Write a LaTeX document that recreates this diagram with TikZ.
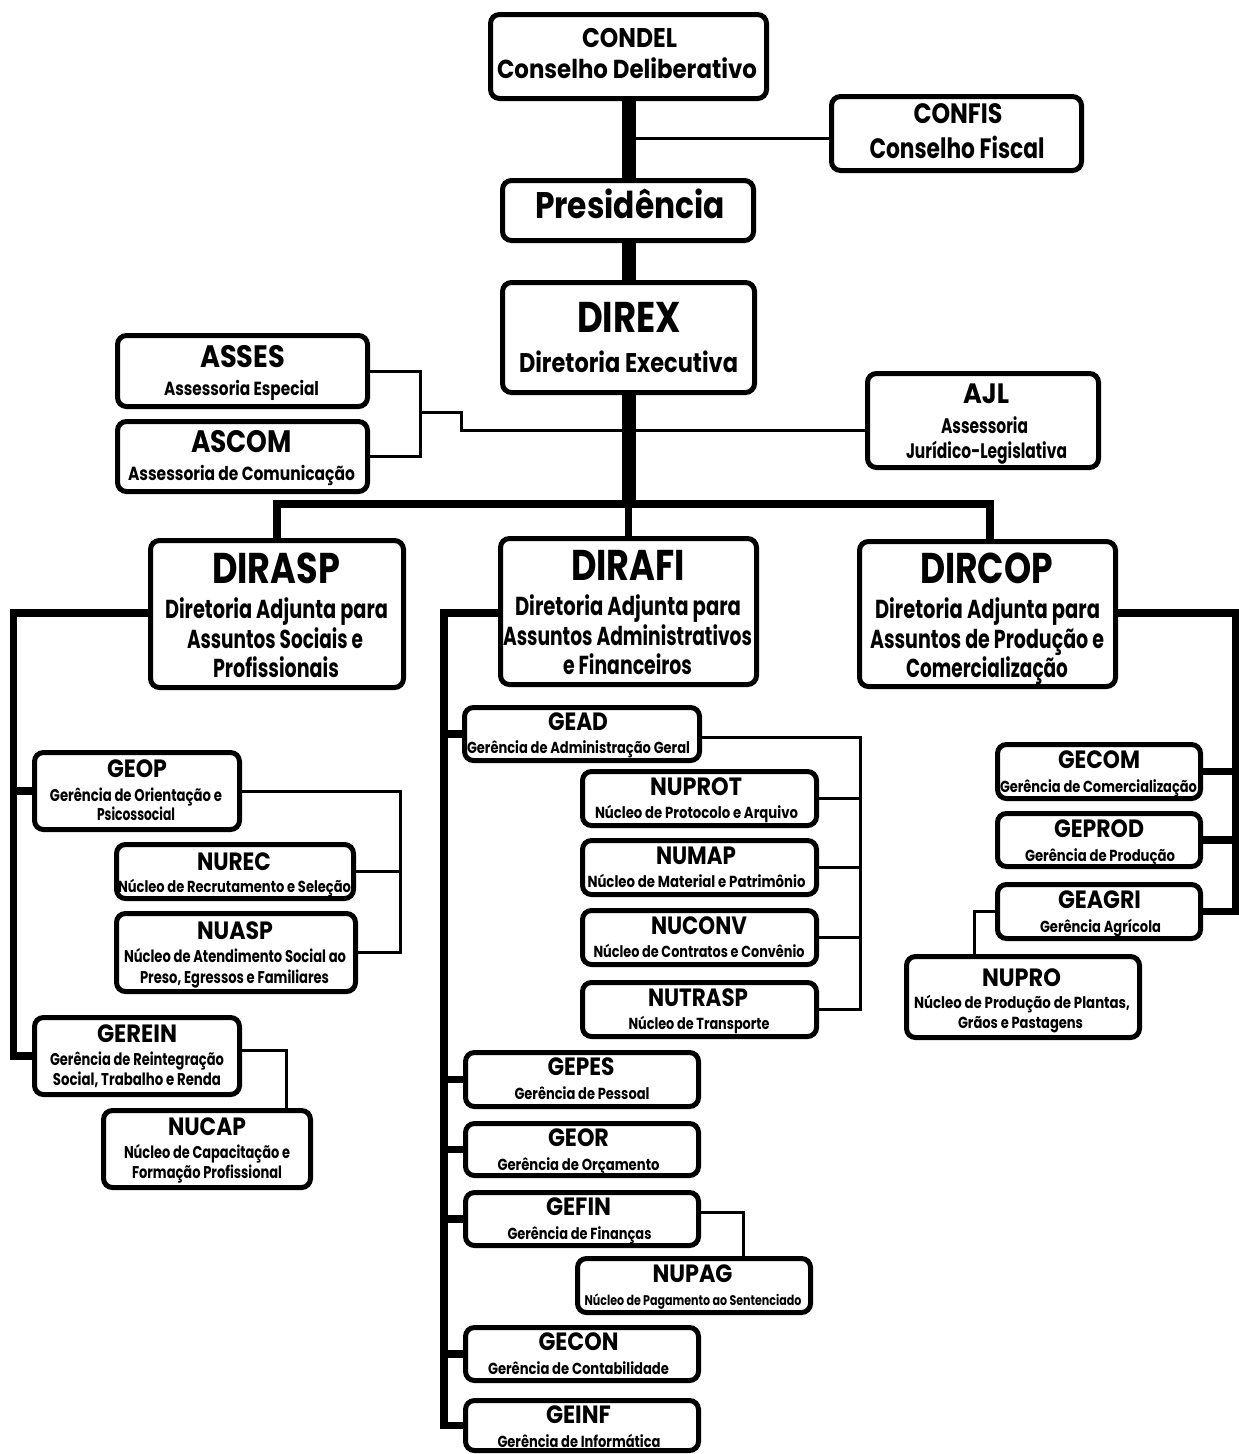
\documentclass[tikz,border=0pt]{standalone}
\usepackage{fontspec}
\usepackage{graphicx}
\setmainfont{Poppins}
\usetikzlibrary{backgrounds}
\newlength\fitlen
\newcommand\fitx[2]{\settowidth\fitlen{#2}\pgfmathsetmacro\fitsc{#1/\fitlen}\scalebox{\fitsc}[1]{#2}}
\tikzset{
  bx/.style={draw=black, line width=5pt, rounded corners=9pt, fill=white, inner sep=0pt, outer sep=0pt},
  cn/.style={draw=black, line width=3pt},
  bus/.style={draw=black, line width=7.5pt},
  spine/.style={draw=black, line width=14pt},
}
\newcommand\B[5]{\node[bx, minimum width={#4-#2-5}, minimum height={#5-#3-5}] (#1) at ({(#2+#4)/2},{(#3+#5)/2}) {};}
\newcommand\T[6]{\node[anchor=base, inner sep=0pt, font=\fontsize{#4}{#4}\selectfont\bfseries] (#1) at (#2,#3) {\fitx{#5}{#6}};}
\begin{document}
\begin{tikzpicture}[x=1pt,y=-1pt]
\useasboundingbox (0,0) rectangle (1239,1454);
% boxes
\B{condel}{488}{12}{769}{101}
\B{confis}{829}{94}{1084}{173}
\B{pres}{500}{178}{756}{243}
\B{direx}{500}{280}{757}{395}
\B{asses}{115}{333}{370}{409}
\B{ascom}{115}{419}{370}{494}
\B{ajl}{865}{371}{1101}{470}
\B{dirasp}{148}{538}{406}{690}
\B{dirafi}{498}{536}{759}{687}
\B{dircop}{857}{539}{1118}{689}
\B{geop}{32}{750}{242}{832}
\B{nurec}{114}{842}{356}{901}
\B{nuasp}{114}{911}{358}{994}
\B{gerein}{32}{1015}{242}{1097}
\B{nucap}{101}{1108}{313}{1190}
\B{gead}{462}{705}{702}{763}
\B{nuprot}{580}{769}{819}{828}
\B{numap}{580}{838}{819}{897}
\B{nuconv}{580}{908}{819}{967}
\B{nutrasp}{580}{980}{819}{1039}
\B{gepes}{463}{1050}{701}{1109}
\B{geor}{463}{1121}{701}{1178}
\B{gefin}{463}{1190}{701}{1248}
\B{nupag}{575}{1256}{813}{1315}
\B{gecon}{463}{1325}{701}{1383}
\B{geinf}{463}{1398}{701}{1453}
\B{gecom}{995}{742}{1203}{801}
\B{geprod}{995}{811}{1203}{869}
\B{geagri}{995}{882}{1203}{941}
\B{nupro}{904}{954}{1142}{1040}
% texts
\T{t-condel1}{629.5}{47}{27}{95}{CONDEL}
\T{t-condel2}{627}{78}{26}{260}{Conselho Deliberativo}
\T{t-confis1}{958}{123}{28}{89}{CONFIS}
\T{t-confis2}{957}{158}{28}{175}{Conselho Fiscal}
\T{t-pres}{630}{218}{37}{190}{Presidência}
\T{t-direx1}{629}{332}{43}{104}{DIREX}
\T{t-direx2}{628.5}{372}{27}{219}{Diretoria Executiva}
\T{t-asses1}{242.5}{367}{31}{85}{ASSES}
\T{t-asses2}{241.5}{395}{19}{155}{Assessoria Especial}
\T{t-ascom1}{241.5}{452}{31}{101}{ASCOM}
\T{t-ascom2}{241.5}{480}{19}{227}{Assessoria de Comunicação}
\T{t-ajl1}{986}{403}{28}{46}{AJL}
\T{t-ajl2}{984.5}{433}{21}{87}{Assessoria}
\T{t-ajl3}{986.5}{458}{21}{161}{Jurídico-Legislativa}
\T{t-dirasp1}{276}{583}{43}{128}{DIRASP}
\T{t-dirasp2}{276.5}{618}{26}{223}{Diretoria Adjunta para}
\T{t-dirasp3}{275}{648}{26}{176}{Assuntos Sociais e}
\T{t-dirasp4}{276}{677}{26}{126}{Profissionais}
\T{t-dirafi1}{628}{580}{43}{114}{DIRAFI}
\T{t-dirafi2}{628}{615}{26}{226}{Diretoria Adjunta para}
\T{t-dirafi3}{627.5}{645}{26}{249}{Assuntos Administrativos}
\T{t-dirafi4}{627.5}{674}{26}{129}{e Financeiros}
\T{t-dircop1}{986.5}{583}{43}{133}{DIRCOP}
\T{t-dircop2}{987.5}{618}{26}{225}{Diretoria Adjunta para}
\T{t-dircop3}{987}{648}{26}{234}{Assuntos de Produção e}
\T{t-dircop4}{987}{677}{26}{162}{Comercialização}
\T{t-geop1}{137}{777}{25}{60}{GEOP}
\T{t-geop2}{136}{801}{17}{172}{Gerência de Orientação e}
\T{t-geop3}{136}{820}{17}{78}{Psicossocial}
\T{t-nurec1}{234}{870}{25}{74}{NUREC}
\T{t-nurec2}{234.5}{892}{16}{233}{Núcleo de Recrutamento e Seleção}
\T{t-nuasp1}{235}{939}{25}{76}{NUASP}
\T{t-nuasp2}{235}{962}{17}{222}{Núcleo de Atendimento Social ao}
\T{t-nuasp3}{234.5}{983}{17}{189}{Preso, Egressos e Familiares}
\T{t-gerein1}{137}{1042}{25}{80}{GEREIN}
\T{t-gerein2}{137}{1065}{17}{174}{Gerência de Reintegração}
\T{t-gerein3}{137}{1085}{17}{168}{Social, Trabalho e Renda}
\T{t-nucap1}{207}{1135}{25}{78}{NUCAP}
\T{t-nucap2}{207}{1158}{17}{166}{Núcleo de Capacitação e}
\T{t-nucap3}{207}{1178}{17}{150}{Formação Profissional}
\T{t-gead1}{578}{730}{25}{60}{GEAD}
\T{t-gead2}{578.5}{753}{16}{223}{Gerência de Administração Geral}
\T{t-nuprot1}{696}{795}{25}{92}{NUPROT}
\T{t-nuprot2}{696.5}{818}{16}{203}{Núcleo de Protocolo e Arquivo}
\T{t-numap1}{696}{864}{25}{80}{NUMAP}
\T{t-numap2}{696.5}{887}{16}{218}{Núcleo de Material e Patrimônio}
\T{t-nuconv1}{699}{934}{25}{96}{NUCONV}
\T{t-nuconv2}{699}{957}{16}{211}{Núcleo de Contratos e Convênio}
\T{t-nutrasp1}{698}{1006}{25}{100}{NUTRASP}
\T{t-nutrasp2}{699}{1029}{16}{141}{Núcleo de Transporte}
\T{t-gepes1}{581}{1075}{25}{67}{GEPES}
\T{t-gepes2}{582}{1099}{16}{135}{Gerência de Pessoal}
\T{t-geor1}{578.5}{1146}{25}{61}{GEOR}
\T{t-geor2}{578.5}{1170}{16}{162}{Gerência de Orçamento}
\T{t-gefin1}{578.5}{1215}{25}{65}{GEFIN}
\T{t-gefin2}{579.5}{1239}{16}{144}{Gerência de Finanças}
\T{t-nupag1}{692.5}{1282}{25}{80}{NUPAG}
\T{t-nupag2}{693}{1305}{14}{217}{Núcleo de Pagamento ao Sentenciado}
\T{t-gecon1}{578.5}{1350}{25}{80}{GECON}
\T{t-gecon2}{578.5}{1374}{16}{181}{Gerência de Contabilidade}
\T{t-geinf1}{578.5}{1423}{25}{65}{GEINF}
\T{t-geinf2}{579}{1447}{16}{163}{Gerência de Informática}
\T{t-gecom1}{1099}{768}{25}{82}{GECOM}
\T{t-gecom2}{1098.5}{792}{16}{197}{Gerência de Comercialização}
\T{t-geprod1}{1099}{837}{25}{90}{GEPROD}
\T{t-geprod2}{1100}{861}{16}{150}{Gerência de Produção}
\T{t-geagri1}{1099.5}{908}{25}{83}{GEAGRI}
\T{t-geagri2}{1100.5}{932}{16}{121}{Gerência Agrícola}
\T{t-nupro1}{1021.5}{986}{25}{79}{NUPRO}
\T{t-nupro2}{1022}{1008}{16}{216}{Núcleo de Produção de Plantas,}
\T{t-nupro3}{1020.5}{1028}{16}{125}{Grãos e Pastagens}
% connectors
\begin{scope}[on background layer]
\fill[white] (0,0) rectangle (1239,1454);
\coordinate (sp) at (629,504);
\draw[spine] (condel.south) -- (condel.south |- sp);
\coordinate (cf) at (629,138);
\draw[cn] (cf) -- (cf -| confis.west);
\coordinate (aj) at (629,430);
\draw[cn] (aj) -- (aj -| ajl.west);
\coordinate (ax) at (420,412);
\coordinate (an) at (461,430);
\draw[cn] (asses.east) -| (ax |- ascom.east) -- (ascom.east);
\draw[cn] (ax) -| (an) -- (aj);
\coordinate (bl) at (277,504);
\coordinate (br) at (990,504);
\draw[bus] (dirasp.north) -- (bl) -- (br) -- (br |- dircop.north);
\draw[bus] (dirafi.north |- bl) -- (dirafi.north);
\coordinate (lx) at (13.5,613);
\draw[bus] (lx -| dirasp.west) -- (lx) |- (gerein.west);
\draw[bus] (geop.west -| lx) -- (geop.west);
\coordinate (gx) at (400,0);
\draw[cn] (geop.east) -| (nuasp.east -| gx) -- (nuasp.east);
\draw[cn] (nurec.east) -- (nurec.east -| gx);
\coordinate (nx) at (286,0);
\draw[cn] ([yshift=6pt]gerein.east) -| (nucap.north -| nx);
\coordinate (fx) at (444,613);
\draw[bus] (fx -| dirafi.west) -- (fx) |- (geinf.west);
\foreach \n in {gead,gepes,geor,gefin,gecon} \draw[bus] (\n.west -| fx) -- (\n.west);
\coordinate (hx) at (860,0);
\draw[cn] ([yshift=-3pt]gead.east) -| (nutrasp.east -| hx) -- (nutrasp.east);
\foreach \n in {nuprot,numap,nuconv} \draw[cn] (\n.east) -- (\n.east -| hx);
\coordinate (px) at (743,0);
\draw[cn] ([yshift=7pt]gefin.east) -| (nupag.north -| px);
\coordinate (rx) at (1235.5,613);
\draw[bus] (rx -| dircop.east) -- (rx) |- (geagri.east);
\foreach \n in {gecom,geprod} \draw[bus] (\n.east -| rx) -- (\n.east);
\coordinate (qx) at (974,0);
\draw[cn] (geagri.west) -| (nupro.north -| qx);
\end{scope}
\end{tikzpicture}
\end{document}
